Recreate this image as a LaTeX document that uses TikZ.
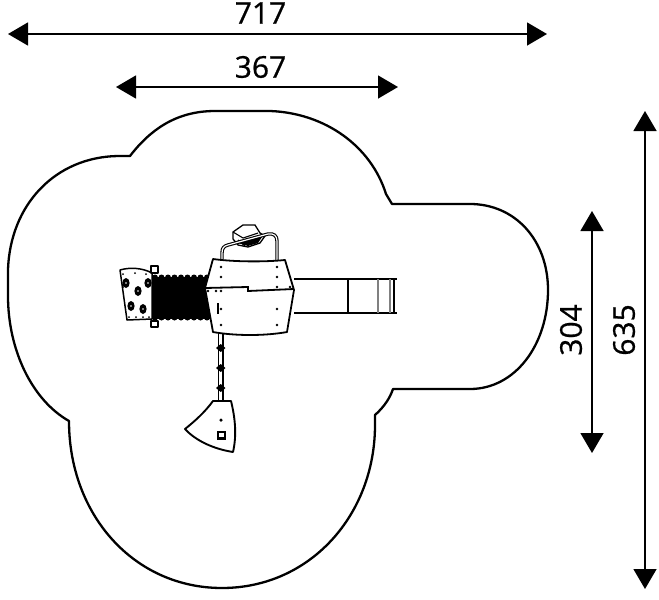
\documentclass[tikz,border=0pt]{standalone}
\usepackage{fontspec}
\setmainfont{Open Sans}[FakeBold=0.7]
\usetikzlibrary{arrows.meta}
\tikzset{
	dimline/.style={line width=1.5pt,{Triangle[length=20pt,width=23pt]}-{Triangle[length=20pt,width=23pt]}},
	dimlabel/.style={font=\fontsize{30}{30}\selectfont,inner sep=0pt},
	outline/.style={line width=2.3pt,line join=round},
	part/.style={line width=1.5pt,line join=round},
	thickpart/.style={line width=2.6pt,line join=round},
	hole/.style={circle,fill=black,inner sep=0pt,minimum size=3.5pt}
}
\begin{document}
\begin{tikzpicture}[x=1pt,y=-1pt]
		\useasboundingbox (0,0) rectangle (659,600);
		\coordinate (w1) at (8,34);
		\coordinate (w2) at (547,34);
		\coordinate (s1) at (116,87);
		\coordinate (s2) at (398,87);
		\coordinate (h1) at (592,211);
		\coordinate (h2) at (592,453);
		\coordinate (t1) at (645,111);
		\coordinate (t2) at (645,589);
		\draw[dimline] (w1) -- (w2);
		\draw[dimline] (s1) -- (s2);
		\draw[dimline] (h1) -- (h2);
		\draw[dimline] (t1) -- (t2);
		\node[dimlabel] (w) at (260.5,13) {717};
		\node[dimlabel] (s) at (260.5,67) {367};
		\node[dimlabel,rotate=90] (h) at (571,330) {304};
		\node[dimlabel,rotate=90] (t) at (624,330) {635};

		\draw[outline] (130,156)
			.. controls (150,130) and (176,111) .. (215,111)
			-- (270,111)
			.. controls (325,113) and (371,146) .. (386,194)
			-- (392,204)
			-- (470,204)
			.. controls (515,204) and (548,240) .. (548,290)
			.. controls (548,345) and (515,389) .. (470,389)
			-- (393,389)
			.. controls (390,398) and (384,407) .. (375,415)
			-- (375,425)
			.. controls (375,515) and (310,588) .. (222,588)
			.. controls (134,588) and (69,515) .. (69,421)
			.. controls (32,400) and (8,350) .. (8,296)
			-- (8,270)
			.. controls (10,205) and (55,157) .. (118,156)
			-- cycle;

		\draw[thickpart] (294,279) -- (397,279);
		\draw[thickpart] (294,313) -- (397,313);
		\draw[part] (348,279) -- (348,313);
		\draw[line width=1.2pt,gray] (378,279) -- (378,313);
		\draw[line width=1.2pt,gray] (390,279) -- (390,313);
		\draw[part] (394,279) -- (394,313);

		\fill (152,276.5) rectangle (212,318.5);
		\foreach \x in {155,161.5,...,207} {
			\fill (\x,277.5) circle[radius=3pt];
			\fill (\x,317.5) circle[radius=3pt];
		}

		\draw[part,fill=white] (120,270) .. controls (130,267) and (143,268) .. (152,273)
			-- (152,319) -- (127,320) -- cycle;
		\draw[part,fill=white] (151,266) rectangle (158,273);
		\draw[part,fill=white] (151,321) rectangle (158,327);
		\foreach \x/\y in {126/283,138/291,148/283,131/306,143/309} {
			\fill (\x,\y) circle[x radius=3.6pt,y radius=5pt];
			\fill[white] (\x,\y) circle[radius=0.8pt];
		}
		\foreach \x/\y in {123/274,135/273,146/274,123/287,129/317,136/317,143/317,149/317} {
			\fill (\x,\y) circle[radius=1pt];
		}

		\draw[part,line width=1.7pt] (218.5,333) -- (218.5,401);
		\draw[part,line width=1.7pt] (223,333) -- (223,401);
		\foreach \y in {348,368,388} {
			\fill (216,\y) -- (220.7,\y-4) -- (225.5,\y) -- (220.7,\y+4) -- cycle;
		}

		\draw[line width=1.9pt,line join=round,fill=white] (213,401) -- (231,401)
			.. controls (235,417) and (237,435) .. (233,452)
			.. controls (214,449) and (196,441) .. (185,429)
			.. controls (195,421) and (205,412) .. (213,401) -- cycle;
		\node[hole] (seathole) at (221,420) {};
		\draw[line width=2.6pt] (218,432) rectangle (225,438.5);

		\draw[part,line width=1.3pt,fill=white] (233,232) -- (233,239) -- (238,245) -- (248,247) -- (260,243)
			-- (265,236) -- (260,233) -- (255,225) -- (243,225) -- cycle;
		\draw[line width=1.1pt] (233,232) -- (243,238) -- (258,233) (245,246) -- (238,240);
		\fill (238,243) -- (262,237) -- (258,243) -- (248,246) -- cycle;
		\draw[line width=3.4pt,line join=round] (222,259) -- (222,253) .. controls (222,248) and (224,246) .. (228,245)
			-- (268,234) .. controls (274,233) and (277,236) .. (277,241) -- (277,260);
		\draw[line width=1.2pt,white,line join=round] (222,259) -- (222,253) .. controls (222,248) and (224,246) .. (228,245)
			-- (268,234) .. controls (274,233) and (277,236) .. (277,241) -- (277,260);

		\draw[part,fill=white,line width=1.8pt] (213,259) .. controls (235,262) and (265,262) .. (285,260)
			-- (294,290) -- (287,332)
			.. controls (265,336) and (235,336) .. (213,332)
			-- (205,288) -- cycle;
		\draw[line width=1.8pt] (205,288) -- (248,287) -- (248,291) -- (294,289);
		\draw[line width=2.4pt] (218,303) -- (218,314);
		\foreach \x/\y in {221/267,221/277,221/291,277/267,277/277,277/287,221/309,277/309,221/325,277/325,208/291,216/291,290/287} {
			\fill (\x,\y) circle[radius=1.3pt];
		}
	\end{tikzpicture}
\end{document}
